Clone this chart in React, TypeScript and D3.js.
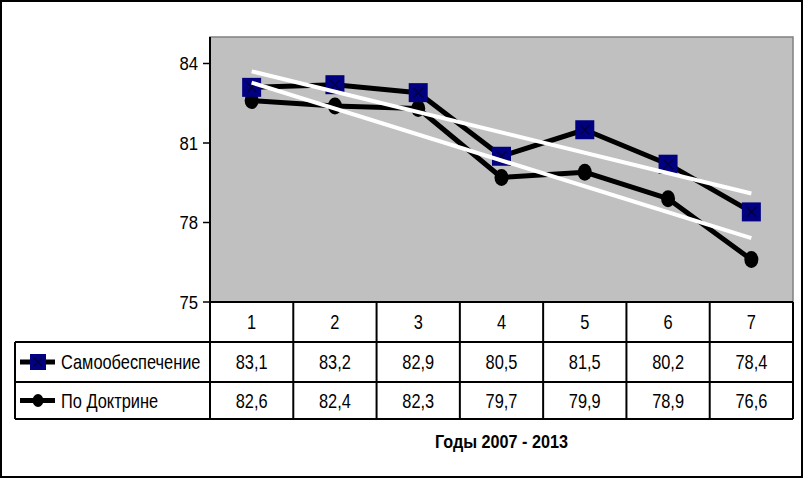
import React from "react";
import * as d3 from "d3";

const categories = ["1", "2", "3", "4", "5", "6", "7"];
const seriesNames = ["Самообеспечение", "По Доктрине"];
const selfSupply = [83.1, 83.2, 82.9, 80.5, 81.5, 80.2, 78.4];
const doctrine = [82.6, 82.4, 82.3, 79.7, 79.9, 78.9, 76.6];
const yTicks = [75, 78, 81, 84];
const xTitle = "Годы 2007 - 2013";

const W = 805, H = 480;
const L = 210, R = 793, T = 37, B = 302;
const rowH = [40, 40, 37];
const legendLeft = 15;
const FONT = "'Liberation Sans', Arial, sans-serif";

function fit(vals: number[]) {
  const n = vals.length;
  const xs = vals.map((_, i) => i + 1);
  const mx = d3.mean(xs)!;
  const my = d3.mean(vals)!;
  let num = 0, den = 0;
  xs.forEach((x, i) => { num += (x - mx) * (vals[i] - my); den += (x - mx) ** 2; });
  const b = num / den;
  const a = my - b * mx;
  return [a + b * 1, a + b * n];
}

function fmt(v: number) {
  return v.toFixed(1).replace(".", ",");
}

function Txt(props: { x: number; y: number; sx?: number; size: number; anchor?: string; weight?: string; children: any }) {
  const { x, y, sx = 1, size, anchor = "start", weight = "normal", children } = props;
  return (
    <text transform={`translate(${x},${y}) scale(${sx},1)`} dy="0.36em" textAnchor={anchor} fontSize={size} fontWeight={weight} fill="#000">
      {children}
    </text>
  );
}

export default function App() {
  const x = d3.scaleBand().domain(categories).range([L, R]);
  const y = d3.scaleLinear().domain([75, 85]).range([B, T]);
  const cx = (c: string) => x(c)! + x.bandwidth() / 2;
  const line = d3.line<number>().x((_, i) => cx(categories[i])).y((d) => y(d));
  const series = [selfSupply, doctrine];
  const r0 = B, r1 = B + rowH[0], r2 = r1 + rowH[1], r3 = r2 + rowH[2];

  const squareMarker = (px: number, py: number, s: number, key?: any) => (
    <g key={key}>
      <rect x={px - s / 2} y={py - s / 2} width={s} height={s} fill="#000080" />
      <path d={`M${px - s / 4},${py - s / 4}L${px + s / 4},${py + s / 4}M${px + s / 4},${py - s / 4}L${px - s / 4},${py + s / 4}`} stroke="#000040" strokeWidth={1.5} />
    </g>
  );

  return (
    <svg width={W} height={H} style={{ position: "absolute", left: 0, top: 0, background: "#fff" }} fontFamily={FONT}>
      <rect x={1} y={1} width={801} height={476} fill="#fff" stroke="#000" strokeWidth={2} />
      <rect x={L} y={T} width={R - L} height={B - T} fill="#c0c0c0" stroke="#808080" strokeWidth={1.5} />
      {/* y axis */}
      <line x1={L} x2={L} y1={T} y2={r3} stroke="#000" strokeWidth={2} />
      {yTicks.map((t) => (
        <g key={t}>
          <line x1={L - 7} x2={L} y1={y(t)} y2={y(t)} stroke="#000" strokeWidth={1.5} />
          <Txt x={L - 12} y={y(t)} size={19} sx={0.88} anchor="end">{t}</Txt>
        </g>
      ))}
      {/* series lines */}
      {series.map((s, i) => (
        <path key={i} d={line(s)!} fill="none" stroke="#000" strokeWidth={5} strokeLinejoin="round" />
      ))}
      {/* markers */}
      {doctrine.map((v, i) => (
        <ellipse key={"c" + i} cx={cx(categories[i])} cy={y(v)} rx={7} ry={8.5} fill="#000" />
      ))}
      {selfSupply.map((v, i) => squareMarker(cx(categories[i]), y(v), 19, "s" + i))}
      {/* trend lines */}
      {series.map((s, i) => {
        const [a, b] = fit(s);
        return (
          <line key={"t" + i} x1={cx(categories[0])} x2={cx(categories[categories.length - 1])} y1={y(a)} y2={y(b)} stroke="#fff" strokeWidth={4} />
        );
      })}
      {/* data table */}
      <g stroke="#000" strokeWidth={2}>
        <line x1={L} x2={R} y1={r0} y2={r0} />
        <line x1={legendLeft} x2={R} y1={r1} y2={r1} />
        <line x1={legendLeft} x2={R} y1={r2} y2={r2} />
        <line x1={legendLeft} x2={R} y1={r3} y2={r3} />
        <line x1={legendLeft} x2={legendLeft} y1={r1} y2={r3} />
        {categories.map((c) => (
          <line key={c} x1={x(c)! + x.bandwidth()} x2={x(c)! + x.bandwidth()} y1={r0} y2={r3} />
        ))}
      </g>
      {categories.map((c) => (
        <Txt key={"h" + c} x={cx(c)} y={(r0 + r1) / 2} size={20} sx={0.82} anchor="middle">{c}</Txt>
      ))}
      {series.map((s, si) => {
        const yy = si === 0 ? (r1 + r2) / 2 : (r2 + r3) / 2;
        return (
          <g key={"row" + si}>
            <line x1={20} x2={55} y1={yy} y2={yy} stroke="#000" strokeWidth={5} />
            {si === 0 ? squareMarker(38, yy, 16) : <ellipse cx={38} cy={yy} rx={5.5} ry={6.5} fill="#000" />}
            <Txt x={61} y={yy} size={20} sx={0.82}>{seriesNames[si]}</Txt>
            {s.map((v, i) => (
              <Txt key={i} x={cx(categories[i])} y={yy} size={20} sx={0.82} anchor="middle">{fmt(v)}</Txt>
            ))}
          </g>
        );
      })}
      <Txt x={(L + R) / 2} y={442} size={18} sx={0.9} anchor="middle" weight="bold">{xTitle}</Txt>
    </svg>
  );
}
